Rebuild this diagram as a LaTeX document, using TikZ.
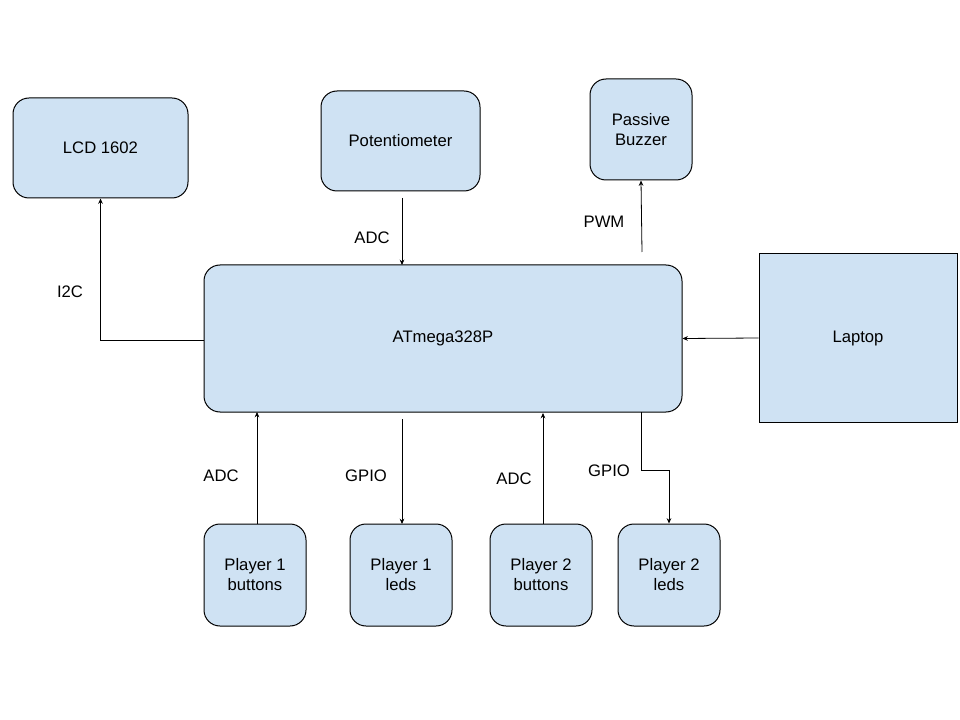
\documentclass[tikz,border=0pt]{standalone}
\usepackage{fontspec}
\setmainfont{Liberation Sans}
\usetikzlibrary{arrows.meta}
\definecolor{boxfill}{HTML}{CFE2F3}
\begin{document}
\begin{tikzpicture}[x=0.75pt,y=-0.75pt,
  box/.style={draw=black,fill=boxfill,rounded corners=12pt,line width=0.75pt,align=center,inner sep=0pt,font=\fontsize{12.5}{15}\selectfont},
  lbl/.style={font=\fontsize{12.5}{15}\selectfont},
  conn/.style={draw=black,line width=0.6pt,-{Stealth[length=4pt,width=3.5pt]}}]
\useasboundingbox (0,0) rectangle (960,720);
\node[box,minimum width=131.25pt,minimum height=75pt] (lcd) at (100.5,148) {LCD 1602};
\node[box,minimum width=119.25pt,minimum height=75pt] (pot) at (400.5,141) {Potentiometer};
\node[box,minimum width=76.5pt,minimum height=75.75pt] (buz) at (641,129.5) {Passive\\Buzzer};
\node[box,minimum width=358.5pt,minimum height=110.25pt] (mcu) at (443,338.5) {ATmega328P};
\node[box,rounded corners=0pt,minimum width=148.5pt,minimum height=126pt] (lap) at (858,338) {Laptop};
\node[box,minimum width=76.5pt,minimum height=76.5pt] (p1b) at (255,575) {Player 1\\buttons};
\node[box,minimum width=76.5pt,minimum height=76.5pt] (p1l) at (401,575) {Player 1\\leds};
\node[box,minimum width=76.5pt,minimum height=76.5pt] (p2b) at (541,575) {Player 2\\buttons};
\node[box,minimum width=76.5pt,minimum height=76.5pt] (p2l) at (669,575) {Player 2\\leds};
\coordinate (pwmstart) at (642,252);
\coordinate (gpio2start) at (641,412);
\draw[conn] (mcu.west |- 0,340) -| (lcd.south);
\draw[conn] (402,198) -- (402,265);
\draw[conn] (pwmstart) -- (buz.south);
\draw[conn] (lap.west) -- (mcu.east);
\draw[conn] (257,524) -- (257,412);
\draw[conn] (402,419) -- (402,524);
\draw[conn] (543,524) -- (543,413);
\draw[conn] (gpio2start) -- (641,470) -- (669,470) -- (p2l.north);
\node[lbl] at (70,292) {I2C};
\node[lbl] at (372,238) {ADC};
\node[lbl] at (604,222) {PWM};
\node[lbl] at (221,476) {ADC};
\node[lbl] at (366,476) {GPIO};
\node[lbl] at (514,479) {ADC};
\node[lbl] at (609,471) {GPIO};
\end{tikzpicture}
\end{document}
